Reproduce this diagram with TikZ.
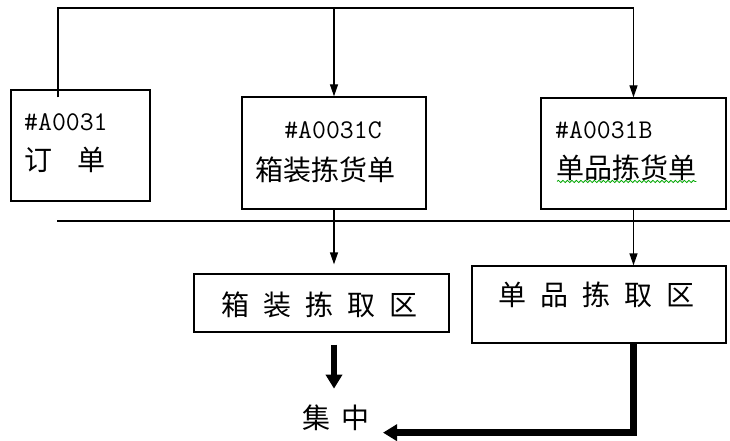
\documentclass[tikz,border=0pt]{standalone}
\usepackage{fontspec}
\newfontfamily\cjk{Noto Sans CJK SC}
\usetikzlibrary{arrows.meta,calc,decorations.pathmorphing}
\newcommand{\cgap}{\hspace{14pt}}
\begin{document}
\begin{tikzpicture}[x=1pt,y=-1pt,
  box/.style={draw,line width=1.3pt,inner sep=0pt},
  conn/.style={line width=1.3pt},
  arr/.style={conn,-{Triangle[length=12pt,width=8pt]}},
  heavy/.style={line width=6.5pt,-{Triangle[length=14pt,width=16pt]}},
  cn/.style={font=\cjk\fontsize{28}{32}\selectfont,inner sep=0pt},
  code/.style={font=\ttfamily\fontsize{27}{32}\selectfont,inner sep=0pt}]
\useasboundingbox (0,0) rectangle (730,441);

% boxes
\node[box,minimum width=139pt,minimum height=111pt] (b1) at (80.5,145.5) {};
\node[box,minimum width=184pt,minimum height=112pt] (b2) at (334,153) {};
\node[box,minimum width=185pt,minimum height=111pt] (b3) at (633.5,153.5) {};
\node[box,minimum width=255pt,minimum height=58pt] (b4) at (321.5,303) {};
\node[box,minimum width=254pt,minimum height=77pt] (b5) at (599,304.5) {};

% texts
\node[code,anchor=base west] (t1a) at (24,131) {\#A0031};
\node[cn,anchor=base west] (t1b) at (24,170) {订};
\node[cn,anchor=base west] (t1c) at (77,170) {单};
\node[code,anchor=base] (t2a) at (333,138) {\#A0031C};
\node[cn,anchor=base] (t2b) at (325,180) {箱装拣货单};
\node[code,anchor=base west] (t3a) at (555,138) {\#A0031B};
\node[cn,anchor=base west] (t3b) at (556,178) {单品拣货单};
\node[cn,anchor=base] (t4) at (319,315) {箱\cgap 装\cgap 拣\cgap 取\cgap 区};
\node[cn,anchor=base] (t5) at (596,305) {单\cgap 品\cgap 拣\cgap 取\cgap 区};
\node[cn,anchor=base] (ji) at (336,428) {集\hspace{12pt}中};

% spell-check squiggle
\draw[green!65!black,line width=0.8pt,decorate,
  decoration={snake,amplitude=1.1pt,segment length=4.5pt}]
  ($(t3b.south west)+(1,1)$) -- ($(t3b.south east)+(0,1)$);

% top distribution lines
\coordinate (tl) at (58,8);
\coordinate (tr) at (633.5,8);
\draw[conn] ([yshift=-8pt]b1.north -| tl) -- (tl) -- (tr);
\draw[arr] (tr) -- (b3.north);
\draw[arr] (b2.north |- tl) -- (b2.north);

% horizontal divider
\coordinate (hl) at (57,221);
\coordinate (hr) at (730,221);
\draw[conn] (hl) -- (hr);

% lower arrows
\draw[arr] (b2.south) -- ($(b2.south |- b4.north)+(0,-9)$);
\draw[arr] (b3.south) -- (b3.south |- b5.north);

% heavy arrows to 集中
\draw[heavy] ($(b4.south -| b2.south)+(0,12)$) -- ($(b4.south -| b2.south)+(0,56)$);
\coordinate (corner) at ($(b5.south -| b3.south)+(0,89)$);
\draw[heavy] (b5.south -| b3.south) -- (corner) -- (corner -| 383,0);
\end{tikzpicture}
\end{document}
